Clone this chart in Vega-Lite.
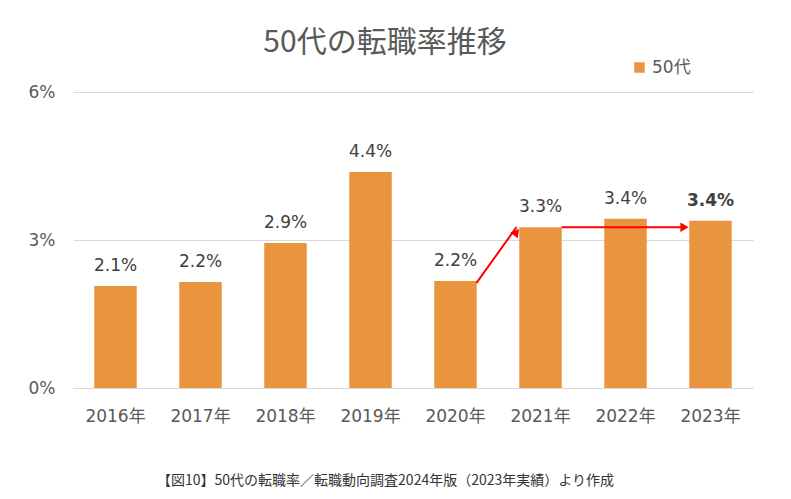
{
  "$schema": "https://vega.github.io/schema/vega-lite/v6.json",
  "width": 680,
  "height": 296,
  "autosize": {"type": "none"},
  "padding": {"left": 73, "top": 92, "right": 38, "bottom": 111},
  "background": "white",
  "config": {
    "view": {"stroke": null},
    "font": "DejaVu Sans, Noto Sans CJK JP"
  },
  "title": {
    "text": "50代の転職率推移",
    "font": "Noto Sans CJK JP",
    "fontSize": 30,
    "fontWeight": "normal",
    "color": "#595959",
    "anchor": "middle",
    "dx": -28,
    "dy": 33,
    "offset": 34
  },
  "datasets": {
    "rates": [
      {"year": "2016年", "rate": 2.07, "label": "2.1%", "series": "50代"},
      {"year": "2017年", "rate": 2.15, "label": "2.2%", "series": "50代"},
      {"year": "2018年", "rate": 2.94, "label": "2.9%", "series": "50代"},
      {"year": "2019年", "rate": 4.38, "label": "4.4%", "series": "50代"},
      {"year": "2020年", "rate": 2.17, "label": "2.2%", "series": "50代"},
      {"year": "2021年", "rate": 3.26, "label": "3.3%", "series": "50代"},
      {"year": "2022年", "rate": 3.43, "label": "3.4%", "series": "50代"},
      {"year": "2023年", "rate": 3.39, "label": "3.4%", "series": "50代"}
    ],
    "arrows": [
      {"id": "a", "from": "2020年", "to": "2021年", "v1": 2.13, "v2": 3.26},
      {"id": "b", "from": "2021年", "to": "2023年", "v1": 3.26, "v2": 3.26}
    ]
  },
  "layer": [
    {
      "data": {"name": "rates"},
      "mark": {"type": "bar", "color": "#E9943F"},
      "encoding": {
        "x": {
          "field": "year", "type": "ordinal", "sort": null,
          "scale": {"paddingInner": 0.5, "paddingOuter": 0.25},
          "axis": {
            "title": "【図10】50代の転職率／転職動向調査2024年版（2023年実績）より作成",
            "titleFont": "Noto Sans CJK JP",
            "titleFontSize": 14,
            "titleFontWeight": "normal",
            "titleColor": "#333333",
            "titlePadding": 49,
            "titleX": 312,
            "labelAngle": 0,
            "labelFontSize": 17,
            "labelColor": "#595959",
            "labelPadding": 20,
            "ticks": false,
            "domainColor": "#d9d9d9",
            "domainWidth": 1
          }
        },
        "y": {
          "field": "rate", "type": "quantitative",
          "scale": {"domain": [0, 6]},
          "axis": {
            "values": [0, 3, 6],
            "labelExpr": "datum.value + '%'",
            "title": null,
            "labelFontSize": 17,
            "labelColor": "#595959",
            "labelPadding": 18,
            "ticks": false,
            "domain": false,
            "gridColor": "#d9d9d9",
            "gridWidth": 1
          }
        },
        "color": {
          "field": "series", "type": "nominal",
          "scale": {"range": ["#E9943F"]},
          "legend": {
            "title": null,
            "orient": "none",
            "legendX": 558,
            "legendY": -33,
            "symbolType": "square",
            "symbolSize": 110,
            "labelFontSize": 17,
            "labelColor": "#595959",
            "labelFont": "DejaVu Sans, Noto Sans CJK JP"
          }
        }
      }
    },
    {
      "data": {"name": "rates"},
      "transform": [{"filter": "datum.year !== '2023年'"}],
      "mark": {"type": "text", "dy": -20, "fontSize": 17, "color": "#404040"},
      "encoding": {
        "x": {"field": "year", "type": "ordinal", "sort": null},
        "y": {"field": "rate", "type": "quantitative"},
        "text": {"field": "label"}
      }
    },
    {
      "data": {"name": "rates"},
      "transform": [{"filter": "datum.year === '2023年'"}],
      "mark": {"type": "text", "dy": -20, "fontSize": 17, "fontWeight": "bold", "color": "#404040"},
      "encoding": {
        "x": {"field": "year", "type": "ordinal", "sort": null},
        "y": {"field": "rate", "type": "quantitative"},
        "text": {"field": "label"}
      }
    },
    {
      "data": {"name": "arrows"},
      "mark": {"type": "rule", "color": "#FF0000", "strokeWidth": 2, "xOffset": 21, "x2Offset": -24},
      "encoding": {
        "x": {"field": "from", "type": "ordinal", "sort": null},
        "x2": {"field": "to"},
        "y": {"field": "v1", "type": "quantitative"},
        "y2": {"field": "v2"}
      }
    },
    {
      "data": {"name": "arrows"},
      "transform": [{"filter": "datum.id === 'a'"}],
      "mark": {"type": "point", "shape": "triangle-right", "filled": true, "color": "#FF0000", "size": 90, "opacity": 1, "angle": -52, "xOffset": -24, "yOffset": 5},
      "encoding": {
        "x": {"field": "to", "type": "ordinal", "sort": null},
        "y": {"field": "v2", "type": "quantitative"}
      }
    },
    {
      "data": {"name": "arrows"},
      "transform": [{"filter": "datum.id === 'b'"}],
      "mark": {"type": "point", "shape": "triangle-right", "filled": true, "color": "#FF0000", "size": 90, "opacity": 1, "xOffset": -26},
      "encoding": {
        "x": {"field": "to", "type": "ordinal", "sort": null},
        "y": {"field": "v2", "type": "quantitative"}
      }
    }
  ]
}
